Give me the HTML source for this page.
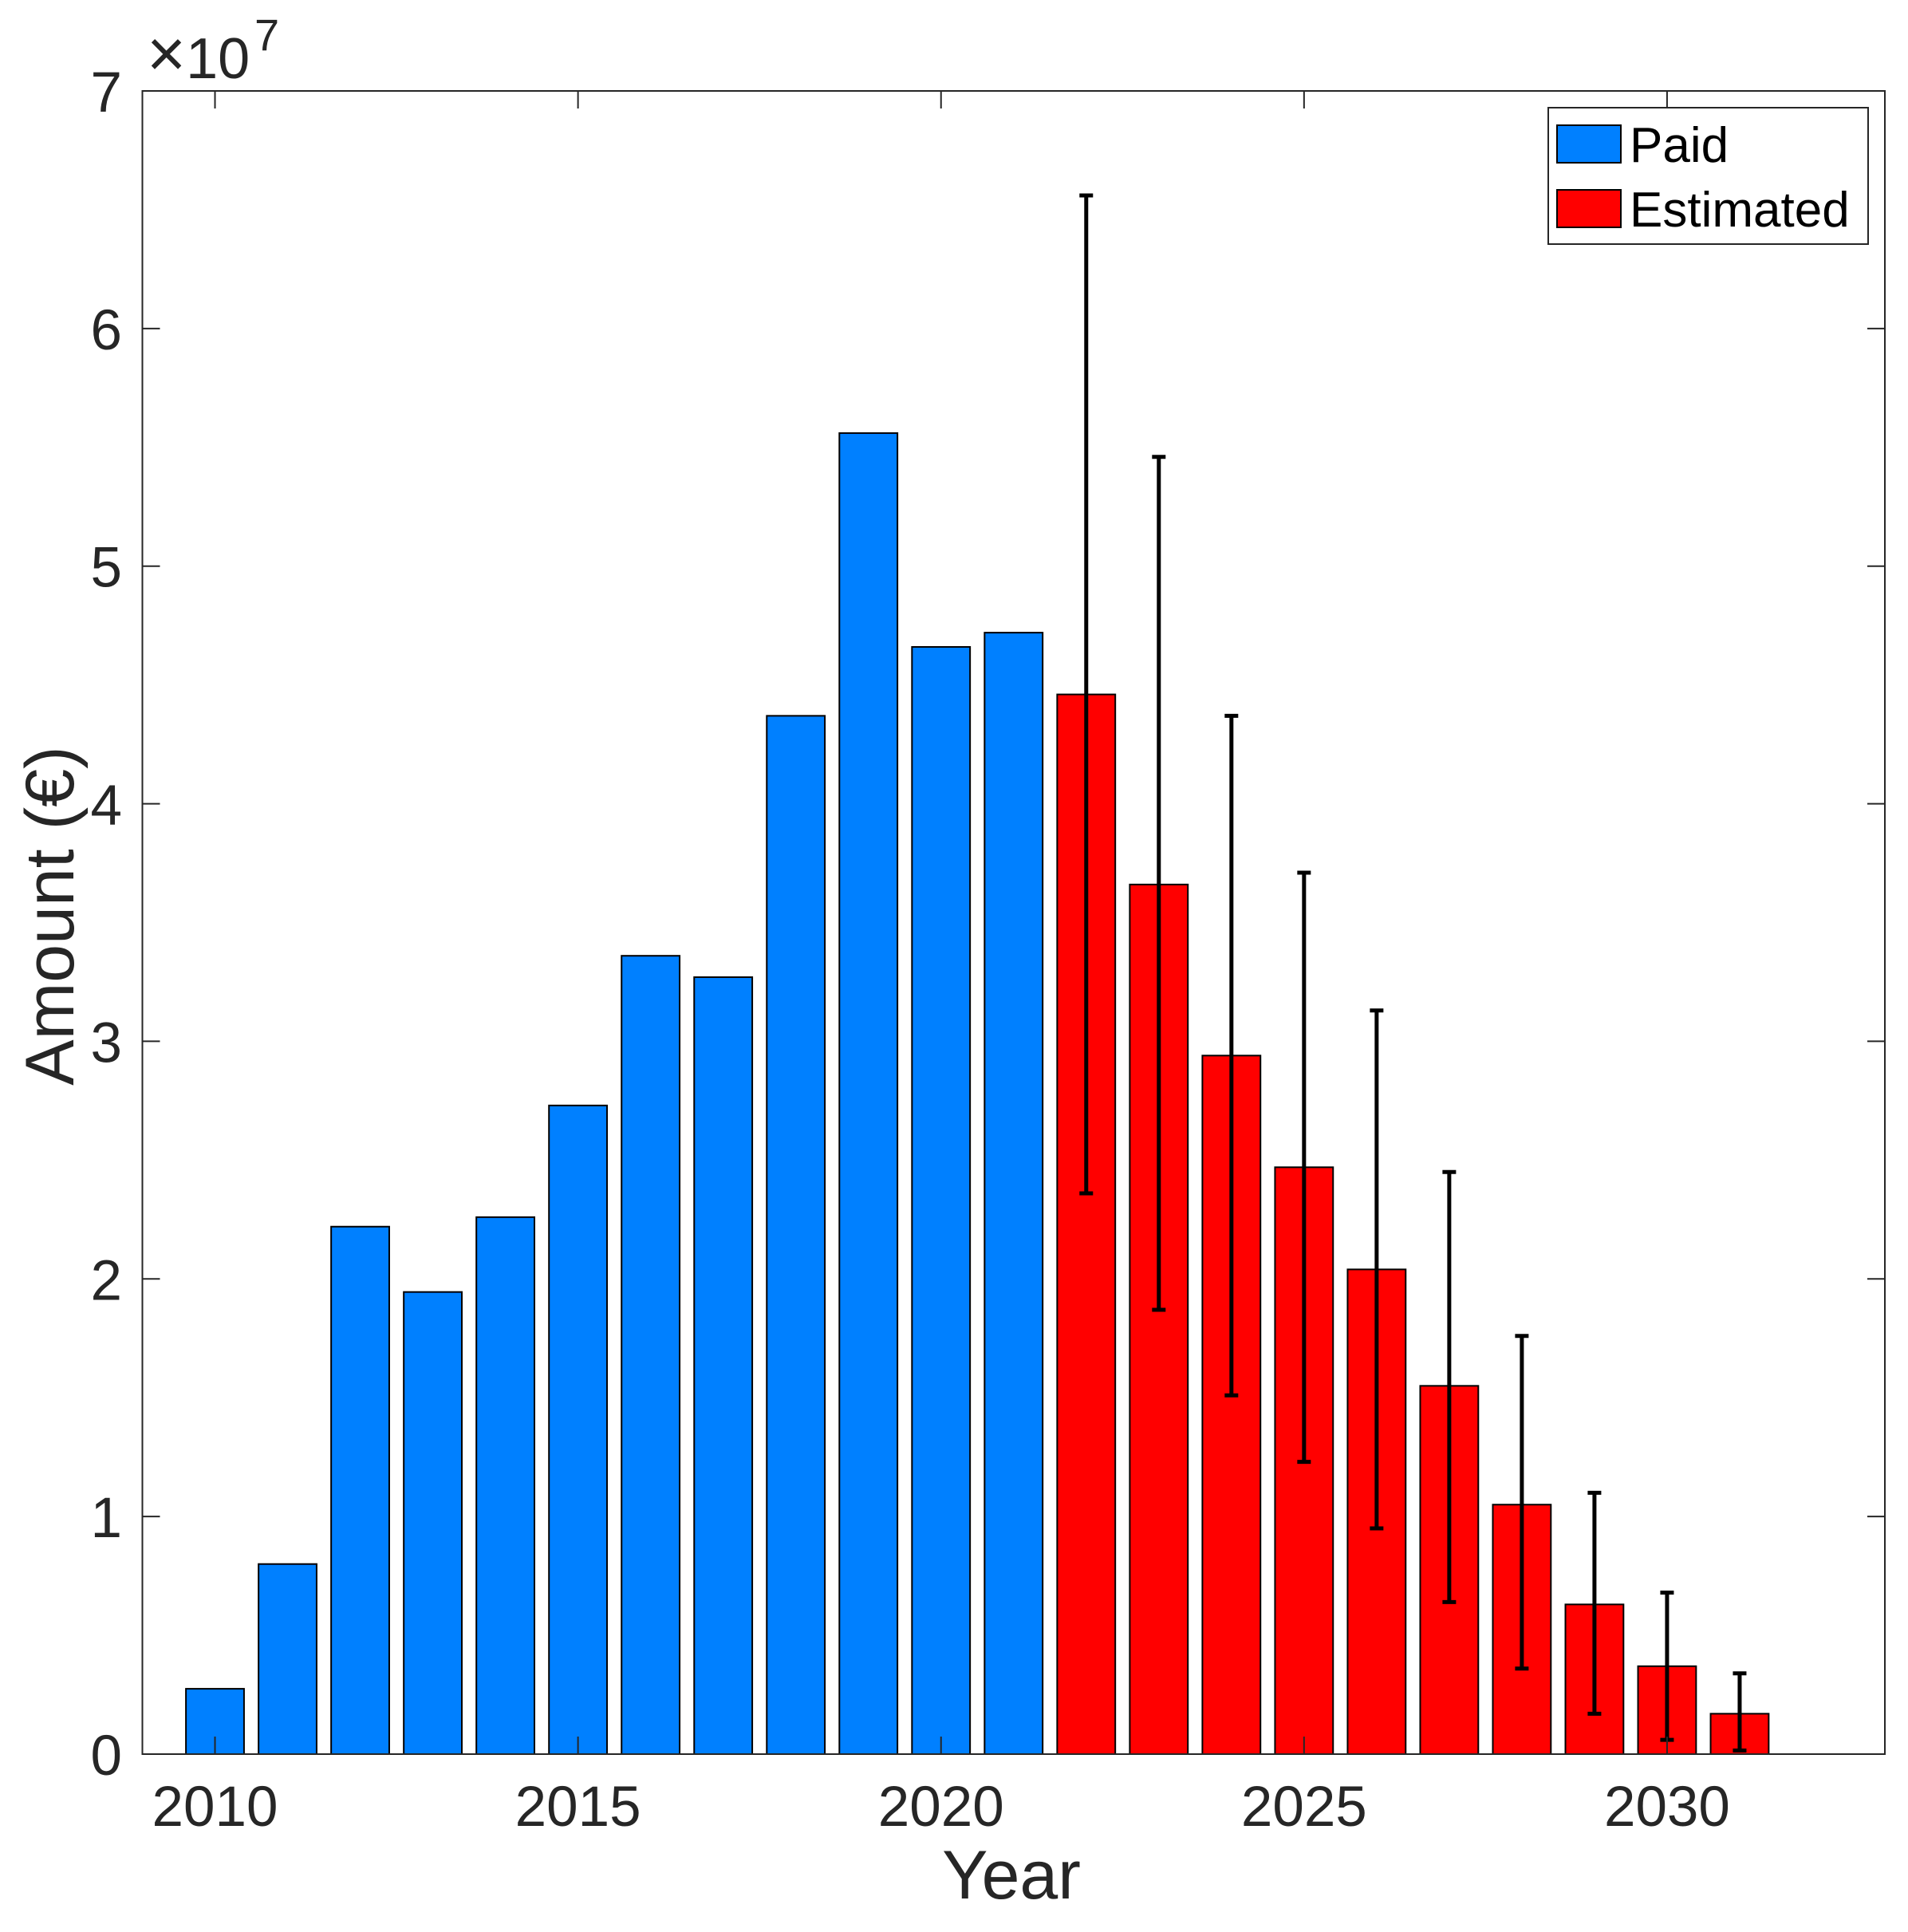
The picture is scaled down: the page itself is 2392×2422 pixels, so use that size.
<!DOCTYPE html>
<html><head><meta charset="utf-8"><style>
html,body{margin:0;padding:0;background:#fff;}
svg{display:block;font-family:"Liberation Sans",sans-serif;}
</style></head><body>
<svg id="chart" width="2392" height="2422" viewBox="0 0 2392 2422" xmlns="http://www.w3.org/2000/svg">
<rect x="0" y="0" width="2392" height="2422" fill="#fff"/>
<g id="bars"></g>
<g id="errs"></g>
<g id="axes"></g>
<g>
  <rect x="1941" y="135" width="401" height="171" fill="#fff" stroke="#262626" stroke-width="2"/>
  <rect x="1952" y="157" width="80" height="47" fill="#0080ff" stroke="#000" stroke-width="2"/>
  <text x="2043" y="203" font-size="62" fill="#000">Paid</text>
  <rect x="1952" y="238" width="80" height="47" fill="#ff0000" stroke="#000" stroke-width="2"/>
  <text x="2043" y="284" font-size="62" fill="#000">Estimated</text>
</g>
<text x="184" y="98" font-size="72" fill="#262626"><tspan font-size="84" dy="-2">×</tspan><tspan dy="2">10</tspan></text>
<text x="319" y="63" font-size="56" fill="#262626">7</text>
<text x="1268" y="2380" font-size="86" fill="#262626" text-anchor="middle">Year</text>
<text x="0" y="0" font-size="86" fill="#262626" text-anchor="middle" transform="translate(92,1148) rotate(-90)">Amount (€)</text>
</svg>
<script>
const years = [2010,2011,2012,2013,2014,2015,2016,2017,2018,2019,2020,2021,2022,2023,2024,2025,2026,2027,2028,2029,2030,2031];
const values = [0.275,0.80,2.22,1.945,2.26,2.73,3.36,3.27,4.37,5.56,4.66,4.72,4.46,3.66,2.94,2.47,2.04,1.55,1.05,0.63,0.37,0.17];
const types = ["paid","paid","paid","paid","paid","paid","paid","paid","paid","paid","paid","paid","est","est","est","est","est","est","est","est","est","est"];
const errYears = [2022,2023,2024,2025,2026,2027,2028,2029,2030,2031];
const errHigh = [6.56,5.46,4.37,3.71,3.13,2.45,1.76,1.10,0.68,0.34];
const errLow = [2.36,1.87,1.51,1.23,0.95,0.64,0.36,0.17,0.06,0.015];
const xTicks = [2010,2015,2020,2025,2030];
const yTicks = [0,1,2,3,4,5,6,7];

const L=178.5,R=2363,T=114,B=2199,X0=2009,X1=2033,Y1=7;
const xs=v=>L+(v-X0)/(X1-X0)*(R-L);
const ys=v=>B-v/Y1*(B-T);
const NS="http://www.w3.org/2000/svg";
function mk(tag,attrs,parent){const e=document.createElementNS(NS,tag);for(const k in attrs)e.setAttribute(k,attrs[k]);parent.appendChild(e);return e;}
const bars=document.getElementById('bars'),errs=document.getElementById('errs'),axes=document.getElementById('axes');
const bw=0.8*(R-L)/(X1-X0);
years.forEach((y,i)=>{
  const r=mk('rect',{x:xs(y)-bw/2,y:ys(values[i]),width:bw,height:B-ys(values[i]),fill:types[i]==="paid"?"#0080ff":"#ff0000",stroke:"#000","stroke-width":2},bars);
  
  
});
errYears.forEach((y,i)=>{
  const g=mk('g',{},errs);
  
  
  const x=xs(y);
  mk('line',{x1:x,x2:x,y1:ys(errHigh[i]),y2:ys(errLow[i]),stroke:"#000","stroke-width":5},g);
  mk('line',{x1:x-8.5,x2:x+8.5,y1:ys(errHigh[i]),y2:ys(errHigh[i]),stroke:"#000","stroke-width":5},g);
  mk('line',{x1:x-8.5,x2:x+8.5,y1:ys(errLow[i]),y2:ys(errLow[i]),stroke:"#000","stroke-width":5},g);
});
mk('rect',{x:L,y:T,width:R-L,height:B-T,fill:"none",stroke:"#262626","stroke-width":2},axes);
xTicks.forEach(t=>{
  const x=xs(t);
  mk('line',{x1:x,x2:x,y1:B,y2:B-22,stroke:"#262626","stroke-width":2},axes);
  mk('line',{x1:x,x2:x,y1:T,y2:T+22,stroke:"#262626","stroke-width":2},axes);
  const tx=mk('text',{x:x,y:2289,"font-size":71,fill:"#262626","text-anchor":"middle"},axes);
  tx.textContent=t;
  
  
});
yTicks.forEach(t=>{
  const y=ys(t);
  mk('line',{x1:L,x2:L+22,y1:y,y2:y,stroke:"#262626","stroke-width":2},axes);
  mk('line',{x1:R,x2:R-22,y1:y,y2:y,stroke:"#262626","stroke-width":2},axes);
  const tx=mk('text',{x:153,y:y+26,"font-size":71,fill:"#262626","text-anchor":"end"},axes);
  tx.textContent=t;
  
  
});
</script>
</body></html>
